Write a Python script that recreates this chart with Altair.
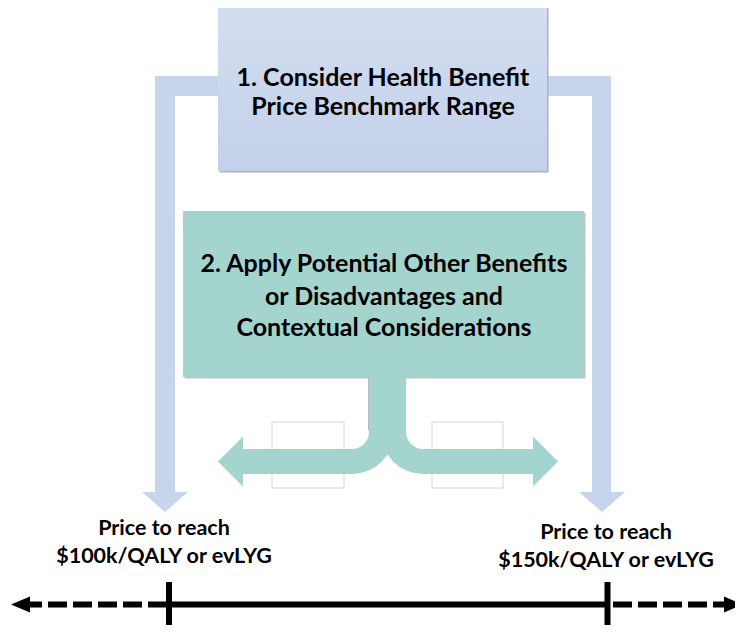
import altair as alt
import pandas as pd

# ---------------- data (reference pixel coordinates) ----------------
W, H = 727, 617
DOM_X = [8, 735]
DOM_Y = [8, 625]

# blue bracket: horizontal arms + vertical shafts
blue_x  = [155, 155, 547, 592]
blue_x2 = [218, 175, 611, 611]
blue_y  = [76, 76, 76, 76]
blue_y2 = [96, 493, 96, 494]
# blue arrow heads (down)
blue_head_x = [165, 602]
blue_head_y = [502, 502]

# box 1
box1 = dict(x=218, x2=547, y=6, y2=171)
box1_lines = ["1. Consider Health Benefit", "Price Benchmark Range"]
box1_line_y = [78, 107]
box1_cx = 383

# box 2
box2 = dict(x=183, x2=584, y=211, y2=377)
box2_lines = ["2. Apply Potential Other Benefits", "or Disadvantages and", "Contextual Considerations"]
box2_line_y = [264, 297, 328]
box2_cx = 384

# thin grey outline artefacts
ghost_x  = [272, 432]
ghost_x2 = [344, 503]
ghost_y  = [422, 422]
ghost_y2 = [488, 488]

# teal split arrow pieces
teal_x  = [369, 242, 422]
teal_x2 = [406, 353, 533]
teal_y  = [376, 449, 449]
teal_y2 = [433, 474, 474]
arc_cx = [352, 423]
arc_cy = [432, 432]
arc_theta  = [1.5708, 3.14159]
arc_theta2 = [3.14159, 4.71239]
arc_r_in, arc_r_out = 17, 42
teal_head_x = [230.5, 545.5]
teal_head_y = [461.5, 461.5]

# labels
lab_text = ["Price to reach", "$100k/QALY or evLYG", "Price to reach", "$150k/QALY or evLYG"]
lab_x = [164, 164, 606, 606]
lab_y = [529, 557, 533, 561]

# number line
line_y = 604.5
solid_x, solid_x2 = 169, 607
dash_x  = [23, 613]
dash_x2 = [169, 735]
tick_x = [169, 607.5]
tick_y, tick_y2 = 582, 632
nl_head_x = [20.5, 733.5]

BLUE = "#C6D5EC"
TEAL = "#A4D4CE"
FONT = "Lato"

xs = alt.Scale(domain=DOM_X, nice=False, zero=False)
ys = alt.Scale(domain=DOM_Y, nice=False, zero=False, reverse=True)


def X(f="x"):
    return alt.X(f"{f}:Q", scale=xs, axis=None)


def Y(f="y"):
    return alt.Y(f"{f}:Q", scale=ys, axis=None)


def rects(df, **mk):
    return alt.Chart(df).mark_rect(**mk).encode(x=X(), x2="x2:Q", y=Y(), y2="y2:Q")


def pts(df, shape, size, color):
    return alt.Chart(df).mark_point(shape=shape, size=size, filled=True, opacity=1,
                                    strokeWidth=0, color=color).encode(x=X(), y=Y())


def texts(df, size):
    return (alt.Chart(df)
            .mark_text(font=FONT, fontWeight="bold", fontSize=size, color="#000000",
                       align="center", baseline="middle")
            .encode(x=X(), y=Y(), text="t:N"))


layers = []

# blue bracket
layers.append(rects(pd.DataFrame(dict(x=blue_x, x2=blue_x2, y=blue_y, y2=blue_y2)), color=BLUE))
layers.append(pts(pd.DataFrame(dict(x=blue_head_x, y=blue_head_y)),
                  "M -1 -0.4348 L 1 -0.4348 L 0 0.4348 Z", 46 * 46, BLUE))

# box 1 (shadow + gradient)
layers.append(rects(pd.DataFrame(dict(x=[box1["x"] + 1.5], x2=[box1["x2"] + 1.5],
                                      y=[box1["y"] + 1.5], y2=[box1["y2"] + 1.5])), color="#A9B2C2"))
layers.append(rects(pd.DataFrame(dict(x=[box1["x"]], x2=[box1["x2"]], y=[box1["y"]], y2=[box1["y2"]])),
                    color=alt.Gradient(gradient="linear", x1=0, x2=0, y1=0, y2=1,
                                       stops=[alt.GradientStop(color="#D3DEF0", offset=0),
                                              alt.GradientStop(color="#C3D0E9", offset=1)])))
layers.append(texts(pd.DataFrame(dict(x=[box1_cx] * 2, y=box1_line_y, t=box1_lines)), 25))

# box 2
layers.append(rects(pd.DataFrame(dict(x=[box2["x"] + 1.5], x2=[box2["x2"] + 1.5],
                                      y=[box2["y"] + 1.5], y2=[box2["y2"] + 1.5])), color="#BFC4C3"))
layers.append(rects(pd.DataFrame(dict(x=[box2["x"]], x2=[box2["x2"]], y=[box2["y"]], y2=[box2["y2"]])),
                    color=TEAL))
layers.append(texts(pd.DataFrame(dict(x=[box2_cx] * 3, y=box2_line_y, t=box2_lines)), 25))

# ghost outlines
layers.append(rects(pd.DataFrame(dict(x=ghost_x, x2=ghost_x2, y=ghost_y, y2=ghost_y2)),
                    fill="#FFFFFF", fillOpacity=0, stroke="#D4D4D4", strokeWidth=1))

# teal split arrow
layers.append(rects(pd.DataFrame(dict(x=teal_x, x2=teal_x2, y=teal_y, y2=teal_y2)), color=TEAL))
layers.append(alt.Chart(pd.DataFrame(dict(x=arc_cx, y=arc_cy, t1=arc_theta, t2=arc_theta2)))
              .mark_arc(radius=arc_r_out, radius2=arc_r_in, color=TEAL)
              .encode(x=X(), y=Y(), theta=alt.Theta("t1:Q", scale=None), theta2="t2:Q"))
layers.append(pts(pd.DataFrame(dict(x=[teal_head_x[0]], y=[teal_head_y[0]])),
                  "M -0.5 0 L 0.5 -1 L 0.5 1 Z", 2500, TEAL))
layers.append(pts(pd.DataFrame(dict(x=[teal_head_x[1]], y=[teal_head_y[1]])),
                  "M 0.5 0 L -0.5 -1 L -0.5 1 Z", 2500, TEAL))
layers.append(alt.Chart(pd.DataFrame(dict(x=[368.5], y=[378], y2=[430])))
              .mark_rule(color="#B5BDBC", strokeWidth=1)
              .encode(x=X(), y=Y(), y2="y2:Q"))

# labels
layers.append(texts(pd.DataFrame(dict(x=lab_x, y=lab_y, t=lab_text)), 21.5))

# number line
layers.append(alt.Chart(pd.DataFrame(dict(x=[solid_x], x2=[solid_x2], y=[line_y])))
              .mark_rule(color="#000000", strokeWidth=6)
              .encode(x=X(), x2="x2:Q", y=Y()))
layers.append(alt.Chart(pd.DataFrame(dict(x=dash_x, x2=dash_x2, y=[line_y] * 2)))
              .mark_rule(color="#000000", strokeWidth=6, strokeDash=[19, 6], strokeCap="butt")
              .encode(x=X(), x2="x2:Q", y=Y()))
layers.append(alt.Chart(pd.DataFrame(dict(x=tick_x, y=[tick_y] * 2, y2=[tick_y2] * 2)))
              .mark_rule(color="#000000", strokeWidth=6)
              .encode(x=X(), y=Y(), y2="y2:Q"))
layers.append(pts(pd.DataFrame(dict(x=[nl_head_x[0]], y=[line_y])),
                  "M -1 0 L 1 -0.842 L 1 0.842 Z", 19 * 19, "#000000"))
layers.append(pts(pd.DataFrame(dict(x=[nl_head_x[1]], y=[line_y])),
                  "M 1 0 L -1 -0.842 L -1 0.842 Z", 19 * 19, "#000000"))

chart = (alt.layer(*layers)
         .properties(width=W, height=H, padding=0,
                     autosize=alt.AutoSizeParams(type="none"))
         .configure(background="white")
         .configure_view(stroke=None))

chart.save("out.html", embed_options={"renderer": "svg", "actions": False})
